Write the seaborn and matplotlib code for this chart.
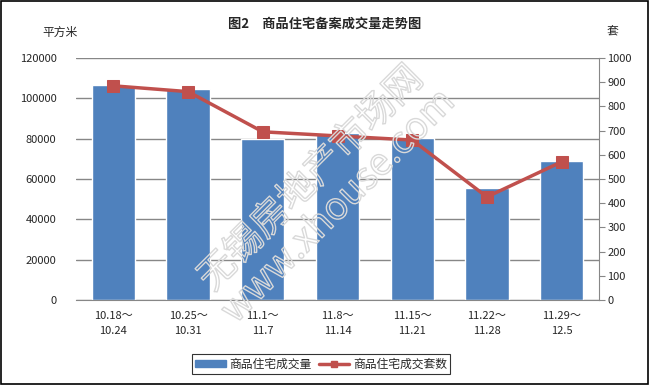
import matplotlib
matplotlib.use('Agg')
import matplotlib.pyplot as plt
import matplotlib.patheffects as pe
from matplotlib.lines import Line2D
from matplotlib.patches import Patch, Rectangle
import numpy as np
import pandas as pd
import seaborn as sns

# ---- data ----
periods = ['10.18～\n10.24', '10.25～\n10.31', '11.1～\n11.7', '11.8～\n11.14',
           '11.15～\n11.21', '11.22～\n11.28', '11.29～\n12.5']
area = [106600, 104700, 79700, 82600, 80100, 55300, 68900]      # 平方米
units = [885, 861, 695, 678, 661, 426, 571]                      # 套

BAR = '#4F81BD'
LINE = '#C0504D'
GRID = '#878787'

sns.set_style('white')
plt.rcParams['font.family'] = ['Noto Sans CJK SC', 'DejaVu Sans']

df = pd.DataFrame({'period': periods, 'area': area, 'units': units})

fig = plt.figure(figsize=(6.5, 3.85), dpi=100)
ax = fig.add_axes([76 / 650, 1 - 300 / 385, (599 - 76) / 650, (300 - 58) / 385])

sns.barplot(data=df, x='period', y='area', color=BAR, saturation=1,
            width=0.58, ax=ax, zorder=2)
ax.set_ylim(0, 120000)
ax.set_yticks(np.arange(0, 120001, 20000))
ax.yaxis.grid(True, color=GRID, lw=1)
ax.set_axisbelow(True)
ax.set_xlabel('')
ax.set_ylabel('')
ax.set_xlim(-0.5, len(periods) - 0.5)
for s in ['top', 'left', 'right']:
    ax.spines[s].set_visible(False)
ax.spines['bottom'].set_color(GRID)
ax.tick_params(axis='y', length=0, labelsize=8, pad=14)
ax.tick_params(axis='x', length=0, labelsize=8, pad=8)
for lab in ax.get_xticklabels():
    lab.set_linespacing(1.6)

ax2 = ax.twinx()
sns.lineplot(x=np.arange(len(units)), y=units, color=LINE, lw=2.5,
             marker='s', markersize=9, markeredgecolor=LINE, ax=ax2, zorder=3)
ax2.set_ylim(0, 1000)
ax2.set_yticks(np.arange(0, 1001, 100))
for s in ['top', 'left', 'bottom']:
    ax2.spines[s].set_visible(False)
ax2.spines['right'].set_color(GRID)
ax2.tick_params(axis='y', direction='out', length=4, color=GRID, labelsize=8, pad=2)

# titles / units
fig.text(0.5, 1 - 24 / 385, '图2　商品住宅备案成交量走势图', ha='center', va='center',
         fontsize=9.5, fontweight='bold')
fig.text(60 / 650, 1 - 32 / 385, '平方米', ha='center', va='center', fontsize=8.5)
fig.text(612 / 650, 1 - 32 / 385, '套', ha='center', va='center', fontsize=8.5)

# watermark (outline only)
fig.text(0.5, 0.5, '无锡房地产市场网\nwww.xhouse.com', ha='center', va='center',
         rotation=45, fontsize=27, color=(1, 1, 1, 0), linespacing=1.0,
         path_effects=[pe.withStroke(linewidth=1.0, foreground='#d9d9d9')], zorder=10)

handles = [Patch(color=BAR, label='商品住宅成交量'),
           Line2D([0], [0], color=LINE, lw=2.5, marker='s', markersize=5,
                  label='商品住宅成交套数')]
leg = fig.legend(handles=handles, loc='center', bbox_to_anchor=(321 / 650, 1 - 364 / 385),
                 ncol=2, fontsize=8.5, frameon=True, fancybox=False,
                 handlelength=2.6, handleheight=0.5, columnspacing=0.6,
                 handletextpad=0.3, borderpad=0.3)
leg.get_frame().set_edgecolor('black')
leg.get_frame().set_linewidth(0.8)

# outer frame
fig.patches.append(Rectangle((0.002, 0.003), 0.995, 0.994, transform=fig.transFigure,
                             fill=False, edgecolor='black', lw=1.2))

fig.savefig('out.png', dpi=100)
